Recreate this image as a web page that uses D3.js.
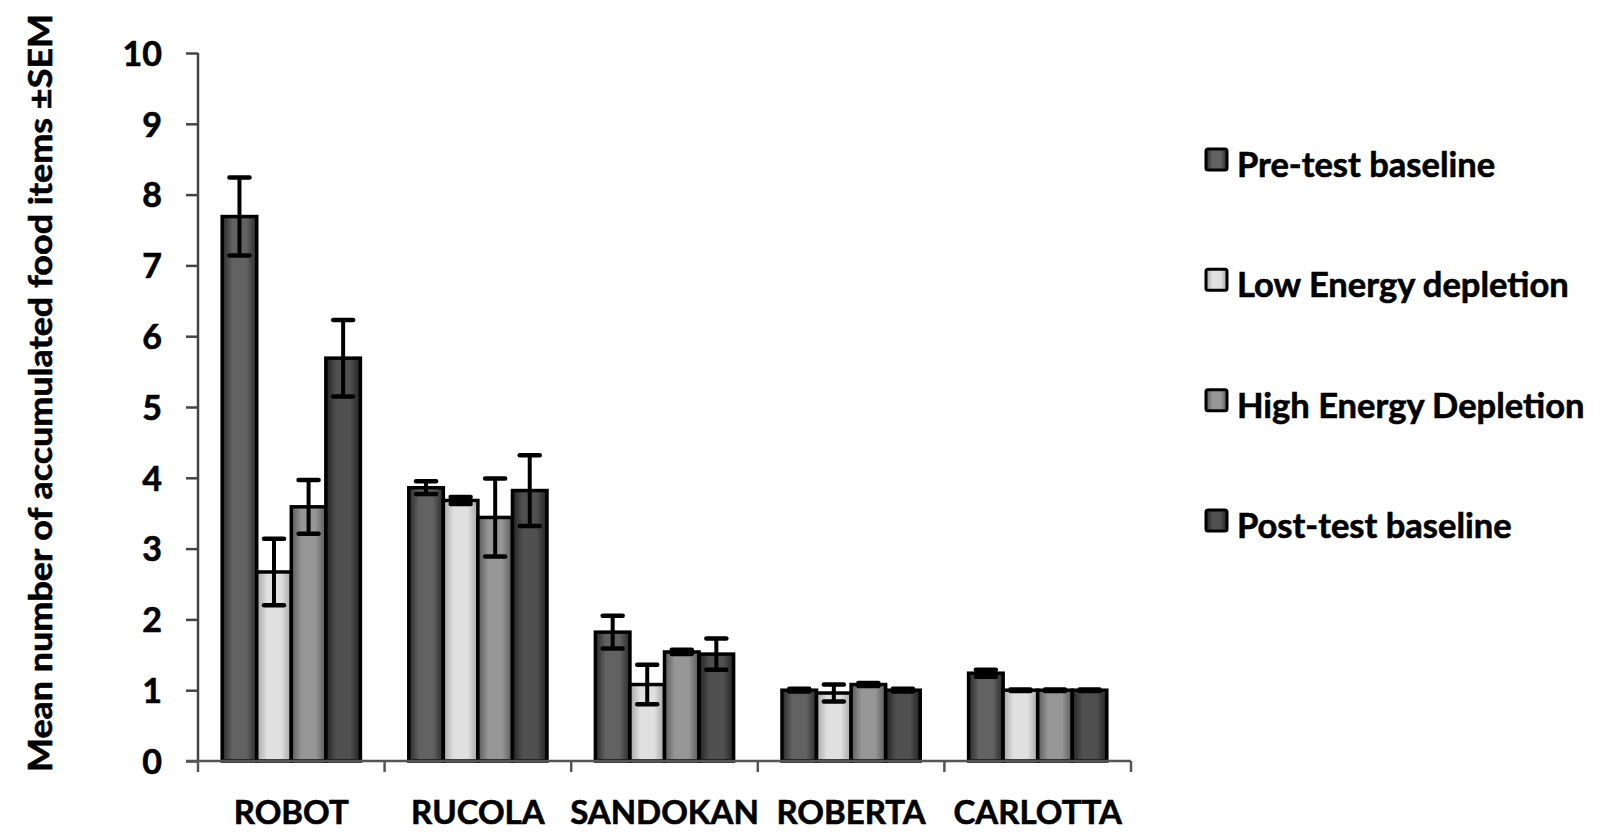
<!DOCTYPE html>
<html>
<head>
<meta charset="utf-8">
<script src="https://cdn.jsdelivr.net/npm/d3@7"></script>
<style>
  html, body { margin: 0; padding: 0; background: #fff; }
  svg { display: block; }
  text { font-family: Lato, "Open Sans", sans-serif; font-weight: 700; fill: #000; stroke: #000; stroke-width: 0.6px; }
</style>
</head>
<body>
<svg id="chart" width="1610" height="838"></svg>
<script>
// ---- data ----
const categories = ["ROBOT", "RUCOLA", "SANDOKAN", "ROBERTA", "CARLOTTA"];
const seriesNames = ["Pre-test baseline", "Low Energy depletion", "High Energy Depletion", "Post-test baseline"];
const preTest   = [7.69, 3.86, 1.82, 1.00, 1.24];
const lowEnergy = [2.67, 3.68, 1.08, 0.96, 1.00];
const highEnergy= [3.59, 3.44, 1.54, 1.08, 1.00];
const postTest  = [5.69, 3.82, 1.51, 1.00, 1.00];
const preErr    = [0.55, 0.09, 0.23, 0.02, 0.05];
const lowErr    = [0.47, 0.05, 0.28, 0.12, 0.01];
const highErr   = [0.38, 0.55, 0.03, 0.02, 0.01];
const postErr   = [0.54, 0.50, 0.22, 0.02, 0.01];
const yTicks = [0, 1, 2, 3, 4, 5, 6, 7, 8, 9, 10];
const yLabel = "Mean number of accumulated food items ±SEM";

(function () {
const values = [preTest, lowEnergy, highEnergy, postTest];
const errors = [preErr, lowErr, highErr, postErr];
const colors = [
  {edge: "#2a2a2a", mid: "#626262"},
  {edge: "#a5a5a5", mid: "#e0e0e0"},
  {edge: "#5a5a5a", mid: "#969696"},
  {edge: "#222222", mid: "#505050"}
];

const svg = d3.select("#chart");
const pLeft = 198, pRight = 1131, pTop = 53, pBottom = 761;

const x = d3.scaleBand().domain(categories).range([pLeft, pRight]).paddingInner(0).paddingOuter(0);
const inner = d3.scaleBand().domain(d3.range(4)).range([0, x.bandwidth()]).paddingOuter(0.7).paddingInner(0);
const y = d3.scaleLinear().domain([0, 10]).range([pBottom, pTop]);

// gradients
const defs = svg.append("defs");
colors.forEach((c, i) => {
  const g = defs.append("linearGradient").attr("id", "g" + i)
    .attr("x1", "0%").attr("x2", "100%").attr("y1", "0%").attr("y2", "0%");
  g.append("stop").attr("offset", "0%").attr("stop-color", c.edge);
  g.append("stop").attr("offset", "30%").attr("stop-color", c.mid);
  g.append("stop").attr("offset", "70%").attr("stop-color", c.mid);
  g.append("stop").attr("offset", "100%").attr("stop-color", c.edge);
});

// y axis
const yAxis = svg.append("g").attr("transform", `translate(${pLeft},0)`)
  .call(d3.axisLeft(y).tickValues(yTicks).tickSize(12).tickPadding(24).tickFormat(d3.format("d")));
yAxis.select(".domain").attr("stroke", "#444").attr("stroke-width", 2.5).attr("d", `M0,${pTop}V${pBottom}`);
yAxis.selectAll(".tick line").attr("stroke", "#444").attr("stroke-width", 2.5);
yAxis.selectAll(".tick text").attr("font-size", 34).attr("font-family", "Lato, sans-serif").attr("font-weight", 700)
  .attr("fill", "#000").attr("stroke", "#000").attr("stroke-width", 0.6).attr("dy", "0.36em");

// bars
const groups = svg.append("g").selectAll("g").data(categories).join("g")
  .attr("transform", d => `translate(${x(d)},0)`);

values.forEach((arr, si) => {
  groups.append("rect")
    .attr("x", inner(si))
    .attr("width", inner.bandwidth())
    .attr("y", (d, i) => y(arr[i]))
    .attr("height", (d, i) => y(0) - y(arr[i]))
    .attr("fill", `url(#g${si})`)
    .attr("stroke", "#000")
    .attr("stroke-width", 3.5);
});

// x axis
const xAxis = svg.append("g").attr("transform", `translate(0,${pBottom})`);
xAxis.append("line").attr("x1", pLeft - 12).attr("x2", pRight).attr("y1", 0).attr("y2", 0)
  .attr("stroke", "#555").attr("stroke-width", 2.5);
const boundaries = categories.map(c => x(c)).concat([pRight]);
xAxis.selectAll("line.tk").data(boundaries).join("line").attr("class", "tk")
  .attr("x1", d => d).attr("x2", d => d).attr("y1", 0).attr("y2", 11)
  .attr("stroke", "#555").attr("stroke-width", 2.5);
xAxis.selectAll("text").data(categories).join("text")
  .attr("x", d => x(d) + x.bandwidth() / 2)
  .attr("y", 63)
  .attr("text-anchor", "middle")
  .attr("font-size", 33)
  .text(d => d);

// error bars
values.forEach((arr, si) => {
  const eg = groups.append("g");
  const cx = inner(si) + inner.bandwidth() / 2;
  eg.append("line")
    .attr("x1", cx).attr("x2", cx)
    .attr("y1", (d, i) => y(arr[i] + errors[si][i]))
    .attr("y2", (d, i) => y(arr[i] - errors[si][i]))
    .attr("stroke", "#000").attr("stroke-width", 4);
  [1, -1].forEach(s => {
    eg.append("line")
      .attr("x1", cx - 10).attr("x2", cx + 10)
      .attr("y1", (d, i) => y(arr[i] + s * errors[si][i]))
      .attr("y2", (d, i) => y(arr[i] + s * errors[si][i]))
      .attr("stroke", "#000").attr("stroke-width", 4.5).attr("stroke-linecap", "round");
  });
});

// y label
svg.append("text")
  .attr("transform", "translate(52,393) rotate(-90)")
  .attr("text-anchor", "middle")
  .attr("font-size", 33)
  .attr("textLength", 758)
  .attr("lengthAdjust", "spacingAndGlyphs")
  .text(yLabel);

// legend
const legend = svg.append("g");
const legendY = d3.scalePoint().domain(d3.range(4)).range([177, 538]);
seriesNames.forEach((name, i) => {
  const g = legend.append("g").attr("transform", `translate(0,${legendY(i)})`);
  g.append("rect").attr("x", 1206).attr("y", -28).attr("width", 21).attr("height", 21)
    .attr("fill", `url(#g${i})`).attr("stroke", "#000").attr("stroke-width", 3).attr("rx", 2);
  g.append("text").attr("x", 1237).attr("y", 0).attr("font-size", 34.5).text(name);
});
})();
</script>
</body>
</html>
